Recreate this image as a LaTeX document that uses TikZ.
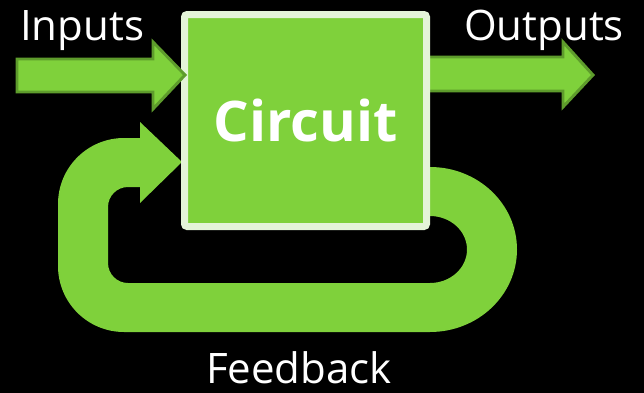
\documentclass[tikz,border=0pt]{standalone}
\usepackage{fontspec}
\setmainfont{Open Sans}
\usepackage{xcolor}
\definecolor{circuitgreen}{HTML}{7FD13B}
\definecolor{edgegreen}{HTML}{5E9C2C}
\definecolor{rimgreen}{HTML}{E4F4D9}

\begin{document}
\begin{tikzpicture}[x=0.75pt,y=0.75pt,yscale=-1,xscale=1,
    lbl/.style={text=white, inner sep=0pt, font=\fontsize{31.5}{36}\selectfont},
    blockarrow/.style={fill=circuitgreen, draw=edgegreen, line width=2.2pt, line join=miter},
    circuitbox/.style={fill=circuitgreen, draw=rimgreen, line width=5.25pt, rounded corners=2pt,
        minimum width=181.5pt, minimum height=159pt, inner sep=0pt, text=white,
        font=\bfseries\fontsize{42}{48}\selectfont}]
        % page
        \useasboundingbox (0,0) rectangle (644,393);
        \fill [black] (0,0) rectangle (644,393);

        % tips of the three arrows
        \coordinate (fbtip) at (182,162);
        \coordinate (outtip) at (593,75);
        \coordinate (intip) at (185,75);

        % feedback loop
        \fill [circuitgreen] (140,138) -- (124,138) arc [start angle=-90, end angle=-180, radius=66]
            -- (58,266) arc [start angle=180, end angle=90, radius=66]
            -- (430,332) arc [start angle=90, end angle=-90, x radius=87, y radius=82.5]
            -- (400,167) -- (400,216) -- (430,216)
            arc [start angle=-90, end angle=90, x radius=37, y radius=33.5]
            -- (128,283) arc [start angle=90, end angle=180, radius=20]
            -- (108,207) arc [start angle=180, end angle=270, radius=20]
            -- (140,187) -- (140,203) -- (fbtip) -- (140,122) -- cycle;

        % output arrow, starts behind the box
        \draw [blockarrow] (outtip) -- ++(-30,-33) -- ++(0,15) -- ++(-143,0) -- ++(0,34)
            -- ++(143,0) -- ++(0,16) -- cycle;

        \node [circuitbox] (circuit) at (305.5,120.5) {Circuit};

        % input arrow
        \draw [blockarrow] (intip) -- ++(-32,-33) -- ++(0,17) -- ++(-136,0) -- ++(0,33)
            -- ++(136,0) -- ++(0,17) -- cycle;

        \node [lbl, anchor=base west] (inputs) at (20,40) {Inputs};
        \node [lbl, anchor=base west] (outputs) at (464,40) {Outputs};
        \node [lbl, anchor=base] (feedback) at (299,383) {Feedback};
    \end{tikzpicture}
\end{document}
